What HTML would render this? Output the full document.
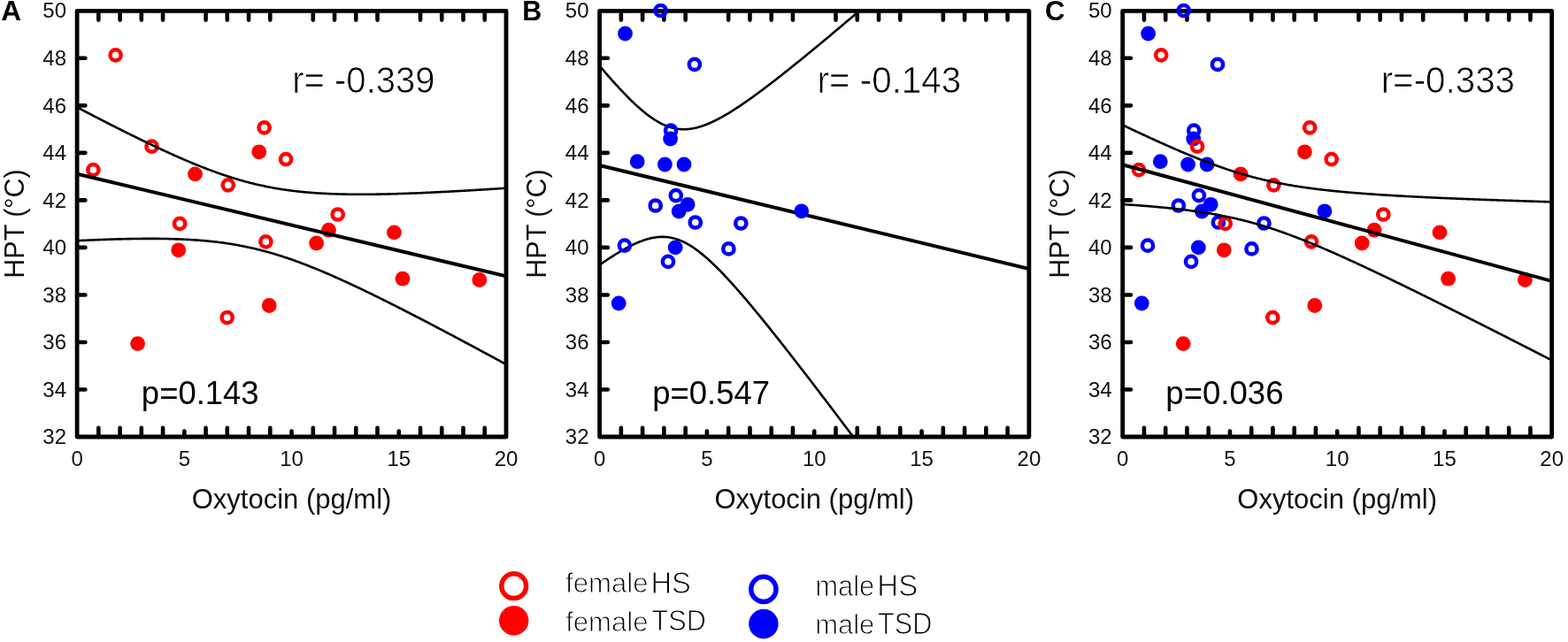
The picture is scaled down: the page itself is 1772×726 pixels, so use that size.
<!DOCTYPE html>
<html><head><meta charset="utf-8"><title>HPT vs Oxytocin</title>
<style>
html,body{margin:0;padding:0;background:#fff;}
body{width:1772px;height:726px;overflow:hidden;}
svg{display:block;font-family:"Liberation Sans",Arial,sans-serif;}
</style></head><body>
<svg width="1772" height="726" viewBox="0 0 1772 726">
<defs>
<clipPath id="clipA"><rect x="87.10" y="12.30" width="484.90" height="481.70"/></clipPath>
<clipPath id="clipB"><rect x="677.60" y="12.30" width="485.30" height="481.70"/></clipPath>
<clipPath id="clipC"><rect x="1268.70" y="12.30" width="485.00" height="481.70"/></clipPath>
</defs>
<path d="M111.34 12.30V22.60M111.34 494.00V483.90M135.59 12.30V22.60M135.59 494.00V483.90M159.83 12.30V22.60M159.83 494.00V483.90M184.08 12.30V22.60M184.08 494.00V483.90M208.32 494.00V487.50M232.57 12.30V22.60M232.57 494.00V483.90M256.81 12.30V22.60M256.81 494.00V483.90M281.06 12.30V22.60M281.06 494.00V483.90M305.30 12.30V22.60M305.30 494.00V483.90M329.55 494.00V487.50M353.79 12.30V22.60M353.79 494.00V483.90M378.04 12.30V22.60M378.04 494.00V483.90M402.28 12.30V22.60M402.28 494.00V483.90M426.53 12.30V22.60M426.53 494.00V483.90M450.77 494.00V487.50M475.02 12.30V22.60M475.02 494.00V483.90M499.26 12.30V22.60M499.26 494.00V483.90M523.51 12.30V22.60M523.51 494.00V483.90M547.75 12.30V22.60M547.75 494.00V483.90M87.10 440.48H96.40M87.10 386.96H96.40M87.10 333.43H96.40M87.10 279.91H96.40M87.10 226.39H96.40M87.10 172.87H96.40M87.10 119.34H96.40M87.10 65.82H96.40" stroke="#000" stroke-width="4.6" stroke-linecap="round" fill="none"/>
<rect x="87.10" y="12.30" width="484.90" height="481.70" fill="none" stroke="#000" stroke-width="4.8" stroke-linejoin="round"/>
<g font-size="24" fill="#111"><text x="75.00" y="502.20" text-anchor="end">32</text><text x="75.00" y="448.68" text-anchor="end">34</text><text x="75.00" y="395.16" text-anchor="end">36</text><text x="75.00" y="341.63" text-anchor="end">38</text><text x="75.00" y="288.11" text-anchor="end">40</text><text x="75.00" y="234.59" text-anchor="end">42</text><text x="75.00" y="181.07" text-anchor="end">44</text><text x="75.00" y="127.54" text-anchor="end">46</text><text x="75.00" y="74.02" text-anchor="end">48</text><text x="75.00" y="19.70" text-anchor="end">50</text><text x="87.10" y="527.3" text-anchor="middle">0</text><text x="208.32" y="527.3" text-anchor="middle">5</text><text x="329.55" y="527.3" text-anchor="middle">10</text><text x="450.77" y="527.3" text-anchor="middle">15</text><text x="572.00" y="527.3" text-anchor="middle">20</text></g>
<text x="329.55" y="575.3" text-anchor="middle" font-size="31" fill="#111">Oxytocin (pg/ml)</text>
<text transform="translate(26.50,253) rotate(-90)" text-anchor="middle" font-size="30.5" fill="#111">HPT (°C)</text>
<path d="M701.87 12.30V22.60M701.87 494.00V483.90M726.13 12.30V22.60M726.13 494.00V483.90M750.39 12.30V22.60M750.39 494.00V483.90M774.66 12.30V22.60M774.66 494.00V483.90M798.93 494.00V487.50M823.19 12.30V22.60M823.19 494.00V483.90M847.46 12.30V22.60M847.46 494.00V483.90M871.72 12.30V22.60M871.72 494.00V483.90M895.99 12.30V22.60M895.99 494.00V483.90M920.25 494.00V487.50M944.52 12.30V22.60M944.52 494.00V483.90M968.78 12.30V22.60M968.78 494.00V483.90M993.05 12.30V22.60M993.05 494.00V483.90M1017.31 12.30V22.60M1017.31 494.00V483.90M1041.58 494.00V487.50M1065.84 12.30V22.60M1065.84 494.00V483.90M1090.11 12.30V22.60M1090.11 494.00V483.90M1114.37 12.30V22.60M1114.37 494.00V483.90M1138.63 12.30V22.60M1138.63 494.00V483.90M677.60 440.48H686.90M677.60 386.96H686.90M677.60 333.43H686.90M677.60 279.91H686.90M677.60 226.39H686.90M677.60 172.87H686.90M677.60 119.34H686.90M677.60 65.82H686.90" stroke="#000" stroke-width="4.6" stroke-linecap="round" fill="none"/>
<rect x="677.60" y="12.30" width="485.30" height="481.70" fill="none" stroke="#000" stroke-width="4.8" stroke-linejoin="round"/>
<g font-size="24" fill="#111"><text x="665.50" y="502.20" text-anchor="end">32</text><text x="665.50" y="448.68" text-anchor="end">34</text><text x="665.50" y="395.16" text-anchor="end">36</text><text x="665.50" y="341.63" text-anchor="end">38</text><text x="665.50" y="288.11" text-anchor="end">40</text><text x="665.50" y="234.59" text-anchor="end">42</text><text x="665.50" y="181.07" text-anchor="end">44</text><text x="665.50" y="127.54" text-anchor="end">46</text><text x="665.50" y="74.02" text-anchor="end">48</text><text x="665.50" y="19.70" text-anchor="end">50</text><text x="677.60" y="527.3" text-anchor="middle">0</text><text x="798.93" y="527.3" text-anchor="middle">5</text><text x="920.25" y="527.3" text-anchor="middle">10</text><text x="1041.58" y="527.3" text-anchor="middle">15</text><text x="1162.90" y="527.3" text-anchor="middle">20</text></g>
<text x="920.25" y="575.3" text-anchor="middle" font-size="31" fill="#111">Oxytocin (pg/ml)</text>
<text transform="translate(617.00,253) rotate(-90)" text-anchor="middle" font-size="30.5" fill="#111">HPT (°C)</text>
<path d="M1292.95 12.30V22.60M1292.95 494.00V483.90M1317.20 12.30V22.60M1317.20 494.00V483.90M1341.45 12.30V22.60M1341.45 494.00V483.90M1365.70 12.30V22.60M1365.70 494.00V483.90M1389.95 494.00V487.50M1414.20 12.30V22.60M1414.20 494.00V483.90M1438.45 12.30V22.60M1438.45 494.00V483.90M1462.70 12.30V22.60M1462.70 494.00V483.90M1486.95 12.30V22.60M1486.95 494.00V483.90M1511.20 494.00V487.50M1535.45 12.30V22.60M1535.45 494.00V483.90M1559.70 12.30V22.60M1559.70 494.00V483.90M1583.95 12.30V22.60M1583.95 494.00V483.90M1608.20 12.30V22.60M1608.20 494.00V483.90M1632.45 494.00V487.50M1656.70 12.30V22.60M1656.70 494.00V483.90M1680.95 12.30V22.60M1680.95 494.00V483.90M1705.20 12.30V22.60M1705.20 494.00V483.90M1729.45 12.30V22.60M1729.45 494.00V483.90M1268.70 440.48H1278.00M1268.70 386.96H1278.00M1268.70 333.43H1278.00M1268.70 279.91H1278.00M1268.70 226.39H1278.00M1268.70 172.87H1278.00M1268.70 119.34H1278.00M1268.70 65.82H1278.00" stroke="#000" stroke-width="4.6" stroke-linecap="round" fill="none"/>
<rect x="1268.70" y="12.30" width="485.00" height="481.70" fill="none" stroke="#000" stroke-width="4.8" stroke-linejoin="round"/>
<g font-size="24" fill="#111"><text x="1256.60" y="502.20" text-anchor="end">32</text><text x="1256.60" y="448.68" text-anchor="end">34</text><text x="1256.60" y="395.16" text-anchor="end">36</text><text x="1256.60" y="341.63" text-anchor="end">38</text><text x="1256.60" y="288.11" text-anchor="end">40</text><text x="1256.60" y="234.59" text-anchor="end">42</text><text x="1256.60" y="181.07" text-anchor="end">44</text><text x="1256.60" y="127.54" text-anchor="end">46</text><text x="1256.60" y="74.02" text-anchor="end">48</text><text x="1256.60" y="19.70" text-anchor="end">50</text><text x="1268.70" y="527.3" text-anchor="middle">0</text><text x="1389.95" y="527.3" text-anchor="middle">5</text><text x="1511.20" y="527.3" text-anchor="middle">10</text><text x="1632.45" y="527.3" text-anchor="middle">15</text><text x="1753.70" y="527.3" text-anchor="middle">20</text></g>
<text x="1511.20" y="575.3" text-anchor="middle" font-size="31" fill="#111">Oxytocin (pg/ml)</text>
<text transform="translate(1208.10,253) rotate(-90)" text-anchor="middle" font-size="30.5" fill="#111">HPT (°C)</text>
<circle cx="130.60" cy="62.30" r="6.1" fill="none" stroke="#ff0000" stroke-width="4.5"/><circle cx="105.40" cy="192.10" r="6.1" fill="none" stroke="#ff0000" stroke-width="4.5"/><circle cx="171.50" cy="165.60" r="6.1" fill="none" stroke="#ff0000" stroke-width="4.5"/><circle cx="257.80" cy="209.30" r="6.1" fill="none" stroke="#ff0000" stroke-width="4.5"/><circle cx="298.60" cy="144.30" r="6.1" fill="none" stroke="#ff0000" stroke-width="4.5"/><circle cx="323.10" cy="180.10" r="6.1" fill="none" stroke="#ff0000" stroke-width="4.5"/><circle cx="381.70" cy="242.50" r="6.1" fill="none" stroke="#ff0000" stroke-width="4.5"/><circle cx="300.40" cy="273.30" r="6.1" fill="none" stroke="#ff0000" stroke-width="4.5"/><circle cx="203.10" cy="252.80" r="6.1" fill="none" stroke="#ff0000" stroke-width="4.5"/><circle cx="256.70" cy="359.10" r="6.1" fill="none" stroke="#ff0000" stroke-width="4.5"/><circle cx="220.50" cy="196.90" r="8.4" fill="#ff0000"/><circle cx="292.80" cy="171.80" r="8.4" fill="#ff0000"/><circle cx="371.50" cy="260.20" r="8.4" fill="#ff0000"/><circle cx="357.60" cy="275.00" r="8.4" fill="#ff0000"/><circle cx="445.40" cy="262.90" r="8.4" fill="#ff0000"/><circle cx="455.00" cy="315.20" r="8.4" fill="#ff0000"/><circle cx="541.80" cy="316.50" r="8.4" fill="#ff0000"/><circle cx="201.70" cy="282.80" r="8.4" fill="#ff0000"/><circle cx="304.20" cy="345.50" r="8.4" fill="#ff0000"/><circle cx="155.60" cy="388.60" r="8.4" fill="#ff0000"/>
<g clip-path="url(#clipA)" fill="none" stroke="#000" stroke-linejoin="round"><polyline points="87.10,121.29 88.31,121.92 89.52,122.56 90.74,123.19 91.95,123.83 93.16,124.46 94.37,125.10 95.59,125.73 96.80,126.36 98.01,126.99 99.22,127.62 100.43,128.26 101.65,128.89 102.86,129.51 104.07,130.14 105.28,130.77 106.50,131.40 107.71,132.03 108.92,132.65 110.13,133.28 111.34,133.90 112.56,134.53 113.77,135.15 114.98,135.78 116.19,136.40 117.41,137.02 118.62,137.64 119.83,138.26 121.04,138.88 122.26,139.50 123.47,140.12 124.68,140.74 125.89,141.35 127.10,141.97 128.32,142.58 129.53,143.20 130.74,143.81 131.95,144.42 133.17,145.04 134.38,145.65 135.59,146.26 136.80,146.87 138.01,147.47 139.23,148.08 140.44,148.69 141.65,149.29 142.86,149.90 144.08,150.50 145.29,151.10 146.50,151.71 147.71,152.31 148.92,152.91 150.14,153.50 151.35,154.10 152.56,154.70 153.77,155.29 154.99,155.89 156.20,156.48 157.41,157.07 158.62,157.66 159.83,158.25 161.05,158.84 162.26,159.43 163.47,160.01 164.68,160.60 165.90,161.18 167.11,161.76 168.32,162.35 169.53,162.92 170.75,163.50 171.96,164.08 173.17,164.65 174.38,165.23 175.59,165.80 176.81,166.37 178.02,166.94 179.23,167.51 180.44,168.07 181.66,168.64 182.87,169.20 184.08,169.76 185.29,170.32 186.50,170.88 187.72,171.44 188.93,171.99 190.14,172.54 191.35,173.09 192.57,173.64 193.78,174.19 194.99,174.73 196.20,175.28 197.41,175.82 198.63,176.36 199.84,176.90 201.05,177.43 202.26,177.96 203.48,178.49 204.69,179.02 205.90,179.55 207.11,180.07 208.32,180.60 209.54,181.12 210.75,181.63 211.96,182.15 213.17,182.66 214.39,183.17 215.60,183.68 216.81,184.18 218.02,184.69 219.24,185.19 220.45,185.68 221.66,186.18 222.87,186.67 224.08,187.16 225.30,187.65 226.51,188.13 227.72,188.61 228.93,189.09 230.15,189.56 231.36,190.04 232.57,190.50 233.78,190.97 234.99,191.43 236.21,191.89 237.42,192.35 238.63,192.80 239.84,193.25 241.06,193.70 242.27,194.14 243.48,194.58 244.69,195.02 245.90,195.45 247.12,195.88 248.33,196.31 249.54,196.73 250.75,197.15 251.97,197.56 253.18,197.97 254.39,198.38 255.60,198.78 256.81,199.18 258.03,199.58 259.24,199.97 260.45,200.36 261.66,200.75 262.88,201.13 264.09,201.50 265.30,201.88 266.51,202.25 267.73,202.61 268.94,202.97 270.15,203.33 271.36,203.68 272.57,204.03 273.79,204.37 275.00,204.71 276.21,205.05 277.42,205.38 278.64,205.70 279.85,206.03 281.06,206.35 282.27,206.66 283.48,206.97 284.70,207.28 285.91,207.58 287.12,207.87 288.33,208.17 289.55,208.46 290.76,208.74 291.97,209.02 293.18,209.30 294.39,209.57 295.61,209.83 296.82,210.10 298.03,210.35 299.24,210.61 300.46,210.86 301.67,211.10 302.88,211.35 304.09,211.58 305.30,211.82 306.52,212.05 307.73,212.27 308.94,212.49 310.15,212.71 311.37,212.92 312.58,213.13 313.79,213.33 315.00,213.53 316.22,213.73 317.43,213.92 318.64,214.11 319.85,214.30 321.06,214.48 322.28,214.65 323.49,214.83 324.70,215.00 325.91,215.16 327.13,215.32 328.34,215.48 329.55,215.64 330.76,215.79 331.97,215.94 333.19,216.08 334.40,216.22 335.61,216.36 336.82,216.49 338.04,216.62 339.25,216.75 340.46,216.88 341.67,217.00 342.88,217.11 344.10,217.23 345.31,217.34 346.52,217.45 347.73,217.55 348.95,217.66 350.16,217.76 351.37,217.85 352.58,217.95 353.79,218.04 355.01,218.13 356.22,218.21 357.43,218.29 358.64,218.37 359.86,218.45 361.07,218.53 362.28,218.60 363.49,218.67 364.71,218.74 365.92,218.80 367.13,218.86 368.34,218.92 369.55,218.98 370.77,219.04 371.98,219.09 373.19,219.14 374.40,219.19 375.62,219.24 376.83,219.28 378.04,219.32 379.25,219.36 380.46,219.40 381.68,219.44 382.89,219.47 384.10,219.51 385.31,219.54 386.53,219.57 387.74,219.59 388.95,219.62 390.16,219.64 391.37,219.66 392.59,219.68 393.80,219.70 395.01,219.72 396.22,219.73 397.44,219.75 398.65,219.76 399.86,219.77 401.07,219.78 402.28,219.78 403.50,219.79 404.71,219.79 405.92,219.80 407.13,219.80 408.35,219.80 409.56,219.80 410.77,219.79 411.98,219.79 413.20,219.79 414.41,219.78 415.62,219.77 416.83,219.76 418.04,219.75 419.26,219.74 420.47,219.73 421.68,219.71 422.89,219.70 424.11,219.68 425.32,219.66 426.53,219.65 427.74,219.63 428.95,219.61 430.17,219.58 431.38,219.56 432.59,219.54 433.80,219.51 435.02,219.49 436.23,219.46 437.44,219.43 438.65,219.41 439.86,219.38 441.08,219.35 442.29,219.31 443.50,219.28 444.71,219.25 445.93,219.22 447.14,219.18 448.35,219.15 449.56,219.11 450.77,219.07 451.99,219.03 453.20,219.00 454.41,218.96 455.62,218.92 456.84,218.88 458.05,218.83 459.26,218.79 460.47,218.75 461.69,218.70 462.90,218.66 464.11,218.62 465.32,218.57 466.53,218.52 467.75,218.48 468.96,218.43 470.17,218.38 471.38,218.33 472.60,218.28 473.81,218.23 475.02,218.18 476.23,218.13 477.44,218.08 478.66,218.03 479.87,217.97 481.08,217.92 482.29,217.86 483.51,217.81 484.72,217.75 485.93,217.70 487.14,217.64 488.35,217.59 489.57,217.53 490.78,217.47 491.99,217.41 493.20,217.35 494.42,217.29 495.63,217.23 496.84,217.17 498.05,217.11 499.26,217.05 500.48,216.99 501.69,216.93 502.90,216.87 504.11,216.80 505.33,216.74 506.54,216.68 507.75,216.61 508.96,216.55 510.18,216.48 511.39,216.42 512.60,216.35 513.81,216.29 515.02,216.22 516.24,216.15 517.45,216.09 518.66,216.02 519.87,215.95 521.09,215.88 522.30,215.82 523.51,215.75 524.72,215.68 525.93,215.61 527.15,215.54 528.36,215.47 529.57,215.40 530.78,215.33 532.00,215.25 533.21,215.18 534.42,215.11 535.63,215.04 536.84,214.97 538.06,214.89 539.27,214.82 540.48,214.75 541.69,214.67 542.91,214.60 544.12,214.53 545.33,214.45 546.54,214.38 547.75,214.30 548.97,214.23 550.18,214.15 551.39,214.08 552.60,214.00 553.82,213.92 555.03,213.85 556.24,213.77 557.45,213.69 558.67,213.62 559.88,213.54 561.09,213.46 562.30,213.38 563.51,213.30 564.73,213.23 565.94,213.15 567.15,213.07 568.36,212.99 569.58,212.91 570.79,212.83 572.00,212.75" stroke-width="2.6"/><polyline points="87.10,272.19 88.31,272.13 89.52,272.08 90.74,272.02 91.95,271.96 93.16,271.91 94.37,271.85 95.59,271.80 96.80,271.74 98.01,271.69 99.22,271.64 100.43,271.59 101.65,271.53 102.86,271.48 104.07,271.43 105.28,271.38 106.50,271.33 107.71,271.28 108.92,271.24 110.13,271.19 111.34,271.14 112.56,271.10 113.77,271.05 114.98,271.01 116.19,270.96 117.41,270.92 118.62,270.88 119.83,270.83 121.04,270.79 122.26,270.75 123.47,270.71 124.68,270.67 125.89,270.63 127.10,270.60 128.32,270.56 129.53,270.52 130.74,270.49 131.95,270.45 133.17,270.42 134.38,270.39 135.59,270.36 136.80,270.33 138.01,270.30 139.23,270.27 140.44,270.24 141.65,270.21 142.86,270.18 144.08,270.16 145.29,270.13 146.50,270.11 147.71,270.09 148.92,270.07 150.14,270.05 151.35,270.03 152.56,270.01 153.77,269.99 154.99,269.98 156.20,269.96 157.41,269.95 158.62,269.94 159.83,269.93 161.05,269.92 162.26,269.91 163.47,269.90 164.68,269.89 165.90,269.89 167.11,269.88 168.32,269.88 169.53,269.88 170.75,269.88 171.96,269.88 173.17,269.89 174.38,269.89 175.59,269.90 176.81,269.90 178.02,269.91 179.23,269.92 180.44,269.94 181.66,269.95 182.87,269.97 184.08,269.98 185.29,270.00 186.50,270.02 187.72,270.04 188.93,270.07 190.14,270.09 191.35,270.12 192.57,270.15 193.78,270.18 194.99,270.22 196.20,270.25 197.41,270.29 198.63,270.33 199.84,270.37 201.05,270.41 202.26,270.46 203.48,270.50 204.69,270.55 205.90,270.61 207.11,270.66 208.32,270.72 209.54,270.77 210.75,270.84 211.96,270.90 213.17,270.96 214.39,271.03 215.60,271.10 216.81,271.18 218.02,271.25 219.24,271.33 220.45,271.41 221.66,271.49 222.87,271.58 224.08,271.67 225.30,271.76 226.51,271.86 227.72,271.95 228.93,272.05 230.15,272.16 231.36,272.26 232.57,272.37 233.78,272.49 234.99,272.60 236.21,272.72 237.42,272.84 238.63,272.97 239.84,273.10 241.06,273.23 242.27,273.36 243.48,273.50 244.69,273.64 245.90,273.79 247.12,273.94 248.33,274.09 249.54,274.25 250.75,274.41 251.97,274.57 253.18,274.74 254.39,274.91 255.60,275.08 256.81,275.26 258.03,275.44 259.24,275.63 260.45,275.82 261.66,276.01 262.88,276.21 264.09,276.41 265.30,276.62 266.51,276.83 267.73,277.04 268.94,277.26 270.15,277.48 271.36,277.71 272.57,277.94 273.79,278.17 275.00,278.41 276.21,278.65 277.42,278.90 278.64,279.15 279.85,279.41 281.06,279.67 282.27,279.93 283.48,280.20 284.70,280.47 285.91,280.75 287.12,281.03 288.33,281.31 289.55,281.60 290.76,281.90 291.97,282.20 293.18,282.50 294.39,282.81 295.61,283.12 296.82,283.43 298.03,283.75 299.24,284.08 300.46,284.41 301.67,284.74 302.88,285.08 304.09,285.42 305.30,285.76 306.52,286.11 307.73,286.46 308.94,286.82 310.15,287.18 311.37,287.55 312.58,287.92 313.79,288.29 315.00,288.67 316.22,289.05 317.43,289.44 318.64,289.83 319.85,290.22 321.06,290.62 322.28,291.02 323.49,291.43 324.70,291.83 325.91,292.25 327.13,292.66 328.34,293.08 329.55,293.51 330.76,293.93 331.97,294.36 333.19,294.80 334.40,295.24 335.61,295.68 336.82,296.12 338.04,296.57 339.25,297.02 340.46,297.47 341.67,297.93 342.88,298.39 344.10,298.86 345.31,299.32 346.52,299.79 347.73,300.26 348.95,300.74 350.16,301.22 351.37,301.70 352.58,302.19 353.79,302.67 355.01,303.16 356.22,303.66 357.43,304.15 358.64,304.65 359.86,305.15 361.07,305.65 362.28,306.16 363.49,306.67 364.71,307.18 365.92,307.69 367.13,308.21 368.34,308.73 369.55,309.25 370.77,309.77 371.98,310.29 373.19,310.82 374.40,311.35 375.62,311.88 376.83,312.42 378.04,312.95 379.25,313.49 380.46,314.03 381.68,314.57 382.89,315.12 384.10,315.66 385.31,316.21 386.53,316.76 387.74,317.31 388.95,317.86 390.16,318.42 391.37,318.97 392.59,319.53 393.80,320.09 395.01,320.65 396.22,321.22 397.44,321.78 398.65,322.35 399.86,322.92 401.07,323.49 402.28,324.06 403.50,324.63 404.71,325.21 405.92,325.78 407.13,326.36 408.35,326.94 409.56,327.52 410.77,328.10 411.98,328.68 413.20,329.26 414.41,329.85 415.62,330.43 416.83,331.02 418.04,331.61 419.26,332.20 420.47,332.79 421.68,333.38 422.89,333.98 424.11,334.57 425.32,335.17 426.53,335.76 427.74,336.36 428.95,336.96 430.17,337.56 431.38,338.16 432.59,338.76 433.80,339.37 435.02,339.97 436.23,340.58 437.44,341.18 438.65,341.79 439.86,342.40 441.08,343.00 442.29,343.61 443.50,344.22 444.71,344.84 445.93,345.45 447.14,346.06 448.35,346.67 449.56,347.29 450.77,347.90 451.99,348.52 453.20,349.14 454.41,349.76 455.62,350.37 456.84,350.99 458.05,351.61 459.26,352.23 460.47,352.85 461.69,353.48 462.90,354.10 464.11,354.72 465.32,355.35 466.53,355.97 467.75,356.60 468.96,357.22 470.17,357.85 471.38,358.48 472.60,359.10 473.81,359.73 475.02,360.36 476.23,360.99 477.44,361.62 478.66,362.25 479.87,362.88 481.08,363.52 482.29,364.15 483.51,364.78 484.72,365.42 485.93,366.05 487.14,366.68 488.35,367.32 489.57,367.95 490.78,368.59 491.99,369.23 493.20,369.86 494.42,370.50 495.63,371.14 496.84,371.78 498.05,372.42 499.26,373.06 500.48,373.70 501.69,374.34 502.90,374.98 504.11,375.62 505.33,376.26 506.54,376.90 507.75,377.54 508.96,378.19 510.18,378.83 511.39,379.47 512.60,380.12 513.81,380.76 515.02,381.41 516.24,382.05 517.45,382.70 518.66,383.34 519.87,383.99 521.09,384.64 522.30,385.28 523.51,385.93 524.72,386.58 525.93,387.23 527.15,387.87 528.36,388.52 529.57,389.17 530.78,389.82 532.00,390.47 533.21,391.12 534.42,391.77 535.63,392.42 536.84,393.07 538.06,393.72 539.27,394.37 540.48,395.02 541.69,395.68 542.91,396.33 544.12,396.98 545.33,397.63 546.54,398.29 547.75,398.94 548.97,399.59 550.18,400.25 551.39,400.90 552.60,401.56 553.82,402.21 555.03,402.87 556.24,403.52 557.45,404.18 558.67,404.83 559.88,405.49 561.09,406.14 562.30,406.80 563.51,407.46 564.73,408.11 565.94,408.77 567.15,409.43 568.36,410.09 569.58,410.74 570.79,411.40 572.00,412.06" stroke-width="2.6"/><line x1="87.10" y1="196.74" x2="572.00" y2="312.40" stroke-width="4.0"/></g>
<g clip-path="url(#clipB)" fill="none" stroke="#000" stroke-linejoin="round"><polyline points="677.60,74.51 678.81,75.94 680.03,77.36 681.24,78.78 682.45,80.19 683.67,81.60 684.88,83.00 686.09,84.40 687.31,85.79 688.52,87.17 689.73,88.55 690.95,89.92 692.16,91.28 693.37,92.63 694.59,93.98 695.80,95.32 697.01,96.65 698.23,97.97 699.44,99.29 700.65,100.59 701.87,101.89 703.08,103.17 704.29,104.45 705.50,105.71 706.72,106.97 707.93,108.21 709.14,109.44 710.36,110.66 711.57,111.87 712.78,113.07 714.00,114.25 715.21,115.42 716.42,116.57 717.64,117.72 718.85,118.84 720.06,119.95 721.28,121.05 722.49,122.13 723.70,123.19 724.92,124.24 726.13,125.26 727.34,126.27 728.56,127.26 729.77,128.24 730.98,129.19 732.20,130.12 733.41,131.03 734.62,131.91 735.84,132.78 737.05,133.62 738.26,134.44 739.48,135.24 740.69,136.01 741.90,136.75 743.12,137.47 744.33,138.17 745.54,138.84 746.76,139.48 747.97,140.09 749.18,140.68 750.39,141.23 751.61,141.76 752.82,142.26 754.03,142.73 755.25,143.17 756.46,143.58 757.67,143.97 758.89,144.32 760.10,144.64 761.31,144.93 762.53,145.19 763.74,145.42 764.95,145.63 766.17,145.80 767.38,145.94 768.59,146.05 769.81,146.14 771.02,146.19 772.23,146.22 773.45,146.21 774.66,146.18 775.87,146.13 777.09,146.04 778.30,145.93 779.51,145.80 780.73,145.63 781.94,145.45 783.15,145.23 784.37,145.00 785.58,144.74 786.79,144.46 788.01,144.15 789.22,143.83 790.43,143.48 791.65,143.11 792.86,142.73 794.07,142.32 795.29,141.89 796.50,141.45 797.71,140.99 798.93,140.51 800.14,140.01 801.35,139.50 802.56,138.97 803.78,138.43 804.99,137.87 806.20,137.30 807.42,136.72 808.63,136.12 809.84,135.51 811.06,134.88 812.27,134.25 813.48,133.60 814.70,132.94 815.91,132.27 817.12,131.59 818.34,130.90 819.55,130.19 820.76,129.48 821.98,128.76 823.19,128.03 824.40,127.30 825.62,126.55 826.83,125.79 828.04,125.03 829.26,124.26 830.47,123.48 831.68,122.70 832.90,121.91 834.11,121.11 835.32,120.30 836.54,119.49 837.75,118.68 838.96,117.85 840.18,117.02 841.39,116.19 842.60,115.35 843.82,114.50 845.03,113.65 846.24,112.80 847.46,111.94 848.67,111.07 849.88,110.20 851.09,109.33 852.31,108.45 853.52,107.57 854.73,106.68 855.95,105.79 857.16,104.90 858.37,104.00 859.59,103.10 860.80,102.19 862.01,101.29 863.23,100.37 864.44,99.46 865.65,98.54 866.87,97.62 868.08,96.70 869.29,95.77 870.51,94.84 871.72,93.91 872.93,92.98 874.15,92.04 875.36,91.10 876.57,90.16 877.79,89.21 879.00,88.27 880.21,87.32 881.43,86.36 882.64,85.41 883.85,84.46 885.07,83.50 886.28,82.54 887.49,81.58 888.71,80.61 889.92,79.65 891.13,78.68 892.35,77.71 893.56,76.74 894.77,75.77 895.99,74.79 897.20,73.82 898.41,72.84 899.62,71.86 900.84,70.88 902.05,69.90 903.26,68.91 904.48,67.93 905.69,66.94 906.90,65.96 908.12,64.97 909.33,63.98 910.54,62.99 911.76,61.99 912.97,61.00 914.18,60.00 915.40,59.01 916.61,58.01 917.82,57.01 919.04,56.01 920.25,55.01 921.46,54.01 922.68,53.01 923.89,52.00 925.10,51.00 926.32,49.99 927.53,48.99 928.74,47.98 929.96,46.97 931.17,45.96 932.38,44.95 933.60,43.94 934.81,42.93 936.02,41.91 937.24,40.90 938.45,39.89 939.66,38.87 940.88,37.85 942.09,36.84 943.30,35.82 944.52,34.80 945.73,33.78 946.94,32.76 948.15,31.74 949.37,30.72 950.58,29.70 951.79,28.68 953.01,27.66 954.22,26.63 955.43,25.61 956.65,24.58 957.86,23.56 959.07,22.53 960.29,21.50 961.50,20.48 962.71,19.45 963.93,18.42 965.14,17.39 966.35,16.36 967.57,15.33 968.78,14.30 969.99,13.27 971.21,12.24 972.42,11.21 973.63,10.18 974.85,9.14 976.06,8.11 977.27,7.08 978.49,6.04 979.70,5.01 980.91,3.97 982.13,2.94 983.34,1.90 984.55,0.86 985.77,-0.17 986.98,-1.21 988.19,-2.25 989.41,-3.29 990.62,-4.32 991.83,-5.36 993.05,-6.40 994.26,-7.44 995.47,-8.48 996.68,-9.52 997.90,-10.56 999.11,-11.60 1000.32,-12.64 1001.54,-13.69 1002.75,-14.73 1003.96,-15.77 1005.18,-16.81 1006.39,-17.86 1007.60,-18.90 1008.82,-19.94 1010.03,-20.99 1011.24,-22.03 1012.46,-23.08 1013.67,-24.12 1014.88,-25.17 1016.10,-26.21 1017.31,-27.26 1018.52,-28.30 1019.74,-29.35 1020.95,-30.40 1022.16,-31.44 1023.38,-32.49 1024.59,-33.54 1025.80,-34.58 1027.02,-35.63 1028.23,-36.68 1029.44,-37.73 1030.66,-38.78 1031.87,-39.83 1033.08,-40.87 1034.30,-41.92 1035.51,-42.97 1036.72,-44.02 1037.94,-45.07 1039.15,-46.12 1040.36,-47.17 1041.58,-48.22 1042.79,-49.27 1044.00,-50.33 1045.21,-51.38 1046.43,-52.43 1047.64,-53.48 1048.85,-54.53 1050.07,-55.58 1051.28,-56.64 1052.49,-57.69 1053.71,-58.74 1054.92,-59.79 1056.13,-60.85 1057.35,-61.90 1058.56,-62.95 1059.77,-64.01 1060.99,-65.06 1062.20,-66.12 1063.41,-67.17 1064.63,-68.22 1065.84,-69.28 1067.05,-70.33 1068.27,-71.39 1069.48,-72.44 1070.69,-73.50 1071.91,-74.55 1073.12,-75.61 1074.33,-76.66 1075.55,-77.72 1076.76,-78.78 1077.97,-79.83 1079.19,-80.89 1080.40,-81.94 1081.61,-83.00 1082.83,-84.06 1084.04,-85.11 1085.25,-86.17 1086.47,-87.23 1087.68,-88.29 1088.89,-89.34 1090.11,-90.40 1091.32,-91.46 1092.53,-92.52 1093.74,-93.57 1094.96,-94.63 1096.17,-95.69 1097.38,-96.75 1098.60,-97.81 1099.81,-98.87 1101.02,-99.92 1102.24,-100.98 1103.45,-102.04 1104.66,-103.10 1105.88,-104.16 1107.09,-105.22 1108.30,-106.28 1109.52,-107.34 1110.73,-108.40 1111.94,-109.46 1113.16,-110.52 1114.37,-111.58 1115.58,-112.64 1116.80,-113.70 1118.01,-114.76 1119.22,-115.82 1120.44,-116.88 1121.65,-117.94 1122.86,-119.00 1124.08,-120.06 1125.29,-121.12 1126.50,-122.18 1127.72,-123.24 1128.93,-124.31 1130.14,-125.37 1131.36,-126.43 1132.57,-127.49 1133.78,-128.55 1135.00,-129.61 1136.21,-130.68 1137.42,-131.74 1138.63,-132.80 1139.85,-133.86 1141.06,-134.92 1142.27,-135.99 1143.49,-137.05 1144.70,-138.11 1145.91,-139.17 1147.13,-140.24 1148.34,-141.30 1149.55,-142.36 1150.77,-143.42 1151.98,-144.49 1153.19,-145.55 1154.41,-146.61 1155.62,-147.68 1156.83,-148.74 1158.05,-149.80 1159.26,-150.87 1160.47,-151.93 1161.69,-152.99 1162.90,-154.06" stroke-width="2.6"/><polyline points="677.60,299.55 678.81,298.71 680.03,297.87 681.24,297.03 682.45,296.20 683.67,295.38 684.88,294.56 686.09,293.75 687.31,292.95 688.52,292.15 689.73,291.36 690.95,290.57 692.16,289.80 693.37,289.03 694.59,288.27 695.80,287.51 697.01,286.76 698.23,286.03 699.44,285.30 700.65,284.58 701.87,283.87 703.08,283.17 704.29,282.48 705.50,281.80 706.72,281.13 707.93,280.47 709.14,279.82 710.36,279.18 711.57,278.56 712.78,277.95 714.00,277.35 715.21,276.77 716.42,276.19 717.64,275.64 718.85,275.10 720.06,274.57 721.28,274.06 722.49,273.56 723.70,273.09 724.92,272.62 726.13,272.18 727.34,271.76 728.56,271.35 729.77,270.96 730.98,270.60 732.20,270.25 733.41,269.93 734.62,269.62 735.84,269.34 737.05,269.09 738.26,268.85 739.48,268.64 740.69,268.45 741.90,268.29 743.12,268.16 744.33,268.05 745.54,267.97 746.76,267.91 747.97,267.88 749.18,267.88 750.39,267.91 751.61,267.96 752.82,268.05 754.03,268.16 755.25,268.31 756.46,268.48 757.67,268.68 758.89,268.91 760.10,269.18 761.31,269.47 762.53,269.79 763.74,270.15 764.95,270.53 766.17,270.94 767.38,271.39 768.59,271.86 769.81,272.36 771.02,272.89 772.23,273.45 773.45,274.03 774.66,274.65 775.87,275.29 777.09,275.96 778.30,276.66 779.51,277.38 780.73,278.12 781.94,278.90 783.15,279.69 784.37,280.51 785.58,281.36 786.79,282.22 788.01,283.11 789.22,284.02 790.43,284.95 791.65,285.91 792.86,286.88 794.07,287.87 795.29,288.88 796.50,289.91 797.71,290.95 798.93,292.02 800.14,293.10 801.35,294.19 802.56,295.31 803.78,296.43 804.99,297.58 806.20,298.73 807.42,299.90 808.63,301.09 809.84,302.28 811.06,303.49 812.27,304.71 813.48,305.94 814.70,307.19 815.91,308.44 817.12,309.71 818.34,310.99 819.55,312.27 820.76,313.57 821.98,314.87 823.19,316.19 824.40,317.51 825.62,318.84 826.83,320.18 828.04,321.53 829.26,322.88 830.47,324.24 831.68,325.61 832.90,326.99 834.11,328.37 835.32,329.76 836.54,331.16 837.75,332.56 838.96,333.97 840.18,335.38 841.39,336.80 842.60,338.23 843.82,339.66 845.03,341.09 846.24,342.53 847.46,343.98 848.67,345.43 849.88,346.88 851.09,348.34 852.31,349.80 853.52,351.27 854.73,352.74 855.95,354.21 857.16,355.69 858.37,357.18 859.59,358.66 860.80,360.15 862.01,361.64 863.23,363.14 864.44,364.64 865.65,366.14 866.87,367.65 868.08,369.15 869.29,370.67 870.51,372.18 871.72,373.70 872.93,375.22 874.15,376.74 875.36,378.26 876.57,379.79 877.79,381.32 879.00,382.85 880.21,384.38 881.43,385.92 882.64,387.46 883.85,389.00 885.07,390.54 886.28,392.08 887.49,393.63 888.71,395.18 889.92,396.73 891.13,398.28 892.35,399.84 893.56,401.39 894.77,402.95 895.99,404.51 897.20,406.07 898.41,407.63 899.62,409.19 900.84,410.76 902.05,412.32 903.26,413.89 904.48,415.46 905.69,417.03 906.90,418.61 908.12,420.18 909.33,421.75 910.54,423.33 911.76,424.91 912.97,426.49 914.18,428.07 915.40,429.65 916.61,431.23 917.82,432.81 919.04,434.40 920.25,435.98 921.46,437.57 922.68,439.16 923.89,440.74 925.10,442.33 926.32,443.92 927.53,445.52 928.74,447.11 929.96,448.70 931.17,450.29 932.38,451.89 933.60,453.49 934.81,455.08 936.02,456.68 937.24,458.28 938.45,459.88 939.66,461.48 940.88,463.08 942.09,464.68 943.30,466.28 944.52,467.88 945.73,469.49 946.94,471.09 948.15,472.70 949.37,474.30 950.58,475.91 951.79,477.52 953.01,479.12 954.22,480.73 955.43,482.34 956.65,483.95 957.86,485.56 959.07,487.17 960.29,488.78 961.50,490.39 962.71,492.01 963.93,493.62 965.14,495.23 966.35,496.85 967.57,498.46 968.78,500.08 969.99,501.69 971.21,503.31 972.42,504.93 973.63,506.54 974.85,508.16 976.06,509.78 977.27,511.40 978.49,513.02 979.70,514.63 980.91,516.25 982.13,517.87 983.34,519.50 984.55,521.12 985.77,522.74 986.98,524.36 988.19,525.98 989.41,527.60 990.62,529.23 991.83,530.85 993.05,532.48 994.26,534.10 995.47,535.72 996.68,537.35 997.90,538.97 999.11,540.60 1000.32,542.23 1001.54,543.85 1002.75,545.48 1003.96,547.11 1005.18,548.73 1006.39,550.36 1007.60,551.99 1008.82,553.62 1010.03,555.25 1011.24,556.87 1012.46,558.50 1013.67,560.13 1014.88,561.76 1016.10,563.39 1017.31,565.02 1018.52,566.65 1019.74,568.28 1020.95,569.92 1022.16,571.55 1023.38,573.18 1024.59,574.81 1025.80,576.44 1027.02,578.08 1028.23,579.71 1029.44,581.34 1030.66,582.97 1031.87,584.61 1033.08,586.24 1034.30,587.88 1035.51,589.51 1036.72,591.14 1037.94,592.78 1039.15,594.41 1040.36,596.05 1041.58,597.68 1042.79,599.32 1044.00,600.96 1045.21,602.59 1046.43,604.23 1047.64,605.86 1048.85,607.50 1050.07,609.14 1051.28,610.77 1052.49,612.41 1053.71,614.05 1054.92,615.69 1056.13,617.32 1057.35,618.96 1058.56,620.60 1059.77,622.24 1060.99,623.88 1062.20,625.51 1063.41,627.15 1064.63,628.79 1065.84,630.43 1067.05,632.07 1068.27,633.71 1069.48,635.35 1070.69,636.99 1071.91,638.63 1073.12,640.27 1074.33,641.91 1075.55,643.55 1076.76,645.19 1077.97,646.83 1079.19,648.47 1080.40,650.11 1081.61,651.75 1082.83,653.40 1084.04,655.04 1085.25,656.68 1086.47,658.32 1087.68,659.96 1088.89,661.61 1090.11,663.25 1091.32,664.89 1092.53,666.53 1093.74,668.17 1094.96,669.82 1096.17,671.46 1097.38,673.10 1098.60,674.75 1099.81,676.39 1101.02,678.03 1102.24,679.68 1103.45,681.32 1104.66,682.96 1105.88,684.61 1107.09,686.25 1108.30,687.90 1109.52,689.54 1110.73,691.18 1111.94,692.83 1113.16,694.47 1114.37,696.12 1115.58,697.76 1116.80,699.41 1118.01,701.05 1119.22,702.70 1120.44,704.34 1121.65,705.99 1122.86,707.63 1124.08,709.28 1125.29,710.92 1126.50,712.57 1127.72,714.22 1128.93,715.86 1130.14,717.51 1131.36,719.15 1132.57,720.80 1133.78,722.45 1135.00,724.09 1136.21,725.74 1137.42,727.39 1138.63,729.03 1139.85,730.68 1141.06,732.33 1142.27,733.97 1143.49,735.62 1144.70,737.27 1145.91,738.91 1147.13,740.56 1148.34,742.21 1149.55,743.86 1150.77,745.50 1151.98,747.15 1153.19,748.80 1154.41,750.45 1155.62,752.09 1156.83,753.74 1158.05,755.39 1159.26,757.04 1160.47,758.69 1161.69,760.34 1162.90,761.98" stroke-width="2.6"/><line x1="677.60" y1="187.03" x2="1162.90" y2="303.96" stroke-width="4.0"/></g>
<circle cx="746.60" cy="12.00" r="6.1" fill="none" stroke="#0000ff" stroke-width="4.5"/><circle cx="784.90" cy="72.90" r="6.1" fill="none" stroke="#0000ff" stroke-width="4.5"/><circle cx="758.10" cy="147.60" r="6.1" fill="none" stroke="#0000ff" stroke-width="4.5"/><circle cx="763.80" cy="221.10" r="6.1" fill="none" stroke="#0000ff" stroke-width="4.5"/><circle cx="740.70" cy="232.50" r="6.1" fill="none" stroke="#0000ff" stroke-width="4.5"/><circle cx="785.80" cy="251.50" r="6.1" fill="none" stroke="#0000ff" stroke-width="4.5"/><circle cx="837.30" cy="252.50" r="6.1" fill="none" stroke="#0000ff" stroke-width="4.5"/><circle cx="705.90" cy="277.70" r="6.1" fill="none" stroke="#0000ff" stroke-width="4.5"/><circle cx="823.40" cy="281.40" r="6.1" fill="none" stroke="#0000ff" stroke-width="4.5"/><circle cx="755.00" cy="295.90" r="6.1" fill="none" stroke="#0000ff" stroke-width="4.5"/><circle cx="706.50" cy="38.00" r="8.4" fill="#0000ff"/><circle cx="757.60" cy="157.00" r="8.4" fill="#0000ff"/><circle cx="720.20" cy="182.70" r="8.4" fill="#0000ff"/><circle cx="751.40" cy="186.00" r="8.4" fill="#0000ff"/><circle cx="773.00" cy="186.00" r="8.4" fill="#0000ff"/><circle cx="777.10" cy="231.30" r="8.4" fill="#0000ff"/><circle cx="767.20" cy="239.00" r="8.4" fill="#0000ff"/><circle cx="905.80" cy="238.80" r="8.4" fill="#0000ff"/><circle cx="763.20" cy="279.90" r="8.4" fill="#0000ff"/><circle cx="699.20" cy="343.00" r="8.4" fill="#0000ff"/>
<circle cx="1337.70" cy="12.00" r="6.1" fill="none" stroke="#0000ff" stroke-width="4.5"/><circle cx="1376.00" cy="72.90" r="6.1" fill="none" stroke="#0000ff" stroke-width="4.5"/><circle cx="1349.20" cy="147.60" r="6.1" fill="none" stroke="#0000ff" stroke-width="4.5"/><circle cx="1354.90" cy="221.10" r="6.1" fill="none" stroke="#0000ff" stroke-width="4.5"/><circle cx="1331.80" cy="232.50" r="6.1" fill="none" stroke="#0000ff" stroke-width="4.5"/><circle cx="1376.90" cy="251.50" r="6.1" fill="none" stroke="#0000ff" stroke-width="4.5"/><circle cx="1428.40" cy="252.50" r="6.1" fill="none" stroke="#0000ff" stroke-width="4.5"/><circle cx="1297.00" cy="277.70" r="6.1" fill="none" stroke="#0000ff" stroke-width="4.5"/><circle cx="1414.50" cy="281.40" r="6.1" fill="none" stroke="#0000ff" stroke-width="4.5"/><circle cx="1346.10" cy="295.90" r="6.1" fill="none" stroke="#0000ff" stroke-width="4.5"/><circle cx="1297.60" cy="38.00" r="8.4" fill="#0000ff"/><circle cx="1348.70" cy="157.00" r="8.4" fill="#0000ff"/><circle cx="1311.30" cy="182.70" r="8.4" fill="#0000ff"/><circle cx="1342.50" cy="186.00" r="8.4" fill="#0000ff"/><circle cx="1364.10" cy="186.00" r="8.4" fill="#0000ff"/><circle cx="1368.20" cy="231.30" r="8.4" fill="#0000ff"/><circle cx="1358.30" cy="239.00" r="8.4" fill="#0000ff"/><circle cx="1496.90" cy="238.80" r="8.4" fill="#0000ff"/><circle cx="1354.30" cy="279.90" r="8.4" fill="#0000ff"/><circle cx="1290.30" cy="343.00" r="8.4" fill="#0000ff"/>
<circle cx="1312.20" cy="62.30" r="6.1" fill="none" stroke="#ff0000" stroke-width="4.5"/><circle cx="1287.00" cy="192.10" r="6.1" fill="none" stroke="#ff0000" stroke-width="4.5"/><circle cx="1353.10" cy="165.60" r="6.1" fill="none" stroke="#ff0000" stroke-width="4.5"/><circle cx="1439.40" cy="209.30" r="6.1" fill="none" stroke="#ff0000" stroke-width="4.5"/><circle cx="1480.20" cy="144.30" r="6.1" fill="none" stroke="#ff0000" stroke-width="4.5"/><circle cx="1504.70" cy="180.10" r="6.1" fill="none" stroke="#ff0000" stroke-width="4.5"/><circle cx="1563.30" cy="242.50" r="6.1" fill="none" stroke="#ff0000" stroke-width="4.5"/><circle cx="1482.00" cy="273.30" r="6.1" fill="none" stroke="#ff0000" stroke-width="4.5"/><circle cx="1384.70" cy="252.80" r="6.1" fill="none" stroke="#ff0000" stroke-width="4.5"/><circle cx="1438.30" cy="359.10" r="6.1" fill="none" stroke="#ff0000" stroke-width="4.5"/><circle cx="1402.10" cy="196.90" r="8.4" fill="#ff0000"/><circle cx="1474.40" cy="171.80" r="8.4" fill="#ff0000"/><circle cx="1553.10" cy="260.20" r="8.4" fill="#ff0000"/><circle cx="1539.20" cy="275.00" r="8.4" fill="#ff0000"/><circle cx="1627.00" cy="262.90" r="8.4" fill="#ff0000"/><circle cx="1636.60" cy="315.20" r="8.4" fill="#ff0000"/><circle cx="1723.40" cy="316.50" r="8.4" fill="#ff0000"/><circle cx="1383.30" cy="282.80" r="8.4" fill="#ff0000"/><circle cx="1485.80" cy="345.50" r="8.4" fill="#ff0000"/><circle cx="1337.20" cy="388.60" r="8.4" fill="#ff0000"/>
<g clip-path="url(#clipC)" fill="none" stroke="#000" stroke-linejoin="round"><polyline points="1268.70,141.37 1269.91,141.95 1271.12,142.52 1272.34,143.10 1273.55,143.68 1274.76,144.25 1275.98,144.83 1277.19,145.40 1278.40,145.97 1279.61,146.55 1280.83,147.12 1282.04,147.69 1283.25,148.26 1284.46,148.83 1285.67,149.40 1286.89,149.96 1288.10,150.53 1289.31,151.10 1290.53,151.66 1291.74,152.22 1292.95,152.79 1294.16,153.35 1295.38,153.91 1296.59,154.47 1297.80,155.03 1299.01,155.59 1300.23,156.14 1301.44,156.70 1302.65,157.25 1303.86,157.80 1305.08,158.36 1306.29,158.91 1307.50,159.46 1308.71,160.01 1309.92,160.55 1311.14,161.10 1312.35,161.64 1313.56,162.19 1314.78,162.73 1315.99,163.27 1317.20,163.81 1318.41,164.35 1319.62,164.88 1320.84,165.42 1322.05,165.95 1323.26,166.48 1324.48,167.02 1325.69,167.54 1326.90,168.07 1328.11,168.60 1329.33,169.12 1330.54,169.64 1331.75,170.17 1332.96,170.68 1334.17,171.20 1335.39,171.72 1336.60,172.23 1337.81,172.74 1339.03,173.25 1340.24,173.76 1341.45,174.27 1342.66,174.77 1343.88,175.27 1345.09,175.77 1346.30,176.27 1347.51,176.77 1348.73,177.26 1349.94,177.75 1351.15,178.24 1352.36,178.73 1353.58,179.22 1354.79,179.70 1356.00,180.18 1357.21,180.66 1358.42,181.13 1359.64,181.61 1360.85,182.08 1362.06,182.54 1363.28,183.01 1364.49,183.47 1365.70,183.93 1366.91,184.39 1368.12,184.85 1369.34,185.30 1370.55,185.75 1371.76,186.19 1372.98,186.64 1374.19,187.08 1375.40,187.52 1376.61,187.95 1377.83,188.38 1379.04,188.81 1380.25,189.24 1381.46,189.66 1382.67,190.08 1383.89,190.49 1385.10,190.91 1386.31,191.32 1387.53,191.72 1388.74,192.13 1389.95,192.53 1391.16,192.92 1392.38,193.32 1393.59,193.71 1394.80,194.09 1396.01,194.48 1397.23,194.86 1398.44,195.23 1399.65,195.61 1400.86,195.97 1402.08,196.34 1403.29,196.70 1404.50,197.06 1405.71,197.42 1406.93,197.77 1408.14,198.11 1409.35,198.46 1410.56,198.80 1411.78,199.14 1412.99,199.47 1414.20,199.80 1415.41,200.13 1416.62,200.45 1417.84,200.77 1419.05,201.08 1420.26,201.39 1421.48,201.70 1422.69,202.01 1423.90,202.31 1425.11,202.61 1426.33,202.90 1427.54,203.19 1428.75,203.48 1429.96,203.76 1431.18,204.04 1432.39,204.32 1433.60,204.59 1434.81,204.86 1436.03,205.13 1437.24,205.39 1438.45,205.65 1439.66,205.90 1440.88,206.16 1442.09,206.41 1443.30,206.65 1444.51,206.90 1445.73,207.14 1446.94,207.37 1448.15,207.61 1449.36,207.84 1450.58,208.07 1451.79,208.29 1453.00,208.51 1454.21,208.73 1455.42,208.95 1456.64,209.16 1457.85,209.37 1459.06,209.58 1460.28,209.78 1461.49,209.98 1462.70,210.18 1463.91,210.38 1465.12,210.57 1466.34,210.76 1467.55,210.95 1468.76,211.14 1469.98,211.32 1471.19,211.50 1472.40,211.68 1473.61,211.86 1474.83,212.03 1476.04,212.20 1477.25,212.37 1478.46,212.54 1479.68,212.71 1480.89,212.87 1482.10,213.03 1483.31,213.19 1484.53,213.35 1485.74,213.50 1486.95,213.65 1488.16,213.81 1489.38,213.95 1490.59,214.10 1491.80,214.25 1493.01,214.39 1494.23,214.53 1495.44,214.67 1496.65,214.81 1497.86,214.95 1499.08,215.08 1500.29,215.21 1501.50,215.35 1502.71,215.48 1503.93,215.60 1505.14,215.73 1506.35,215.86 1507.56,215.98 1508.78,216.10 1509.99,216.22 1511.20,216.34 1512.41,216.46 1513.62,216.58 1514.84,216.69 1516.05,216.81 1517.26,216.92 1518.48,217.03 1519.69,217.14 1520.90,217.25 1522.11,217.36 1523.33,217.47 1524.54,217.57 1525.75,217.68 1526.96,217.78 1528.18,217.88 1529.39,217.98 1530.60,218.08 1531.81,218.18 1533.03,218.28 1534.24,218.38 1535.45,218.47 1536.66,218.57 1537.88,218.66 1539.09,218.76 1540.30,218.85 1541.51,218.94 1542.73,219.03 1543.94,219.12 1545.15,219.21 1546.36,219.30 1547.58,219.38 1548.79,219.47 1550.00,219.55 1551.21,219.64 1552.43,219.72 1553.64,219.81 1554.85,219.89 1556.06,219.97 1557.28,220.05 1558.49,220.13 1559.70,220.21 1560.91,220.29 1562.12,220.37 1563.34,220.45 1564.55,220.52 1565.76,220.60 1566.97,220.67 1568.19,220.75 1569.40,220.82 1570.61,220.90 1571.83,220.97 1573.04,221.04 1574.25,221.12 1575.46,221.19 1576.68,221.26 1577.89,221.33 1579.10,221.40 1580.31,221.47 1581.53,221.54 1582.74,221.60 1583.95,221.67 1585.16,221.74 1586.38,221.81 1587.59,221.87 1588.80,221.94 1590.01,222.00 1591.23,222.07 1592.44,222.13 1593.65,222.20 1594.86,222.26 1596.08,222.32 1597.29,222.39 1598.50,222.45 1599.71,222.51 1600.93,222.57 1602.14,222.63 1603.35,222.69 1604.56,222.75 1605.78,222.81 1606.99,222.87 1608.20,222.93 1609.41,222.99 1610.62,223.05 1611.84,223.11 1613.05,223.16 1614.26,223.22 1615.48,223.28 1616.69,223.33 1617.90,223.39 1619.11,223.45 1620.33,223.50 1621.54,223.56 1622.75,223.61 1623.96,223.67 1625.18,223.72 1626.39,223.78 1627.60,223.83 1628.81,223.88 1630.03,223.94 1631.24,223.99 1632.45,224.04 1633.66,224.09 1634.88,224.15 1636.09,224.20 1637.30,224.25 1638.51,224.30 1639.73,224.35 1640.94,224.40 1642.15,224.45 1643.36,224.50 1644.58,224.55 1645.79,224.60 1647.00,224.65 1648.21,224.70 1649.43,224.75 1650.64,224.80 1651.85,224.85 1653.06,224.90 1654.28,224.94 1655.49,224.99 1656.70,225.04 1657.91,225.09 1659.12,225.14 1660.34,225.18 1661.55,225.23 1662.76,225.28 1663.98,225.32 1665.19,225.37 1666.40,225.41 1667.61,225.46 1668.83,225.51 1670.04,225.55 1671.25,225.60 1672.46,225.64 1673.67,225.69 1674.89,225.73 1676.10,225.78 1677.31,225.82 1678.53,225.87 1679.74,225.91 1680.95,225.95 1682.16,226.00 1683.38,226.04 1684.59,226.08 1685.80,226.13 1687.01,226.17 1688.22,226.21 1689.44,226.26 1690.65,226.30 1691.86,226.34 1693.08,226.38 1694.29,226.43 1695.50,226.47 1696.71,226.51 1697.93,226.55 1699.14,226.59 1700.35,226.63 1701.56,226.68 1702.78,226.72 1703.99,226.76 1705.20,226.80 1706.41,226.84 1707.62,226.88 1708.84,226.92 1710.05,226.96 1711.26,227.00 1712.48,227.04 1713.69,227.08 1714.90,227.12 1716.11,227.16 1717.33,227.20 1718.54,227.24 1719.75,227.28 1720.96,227.32 1722.17,227.36 1723.39,227.40 1724.60,227.44 1725.81,227.48 1727.03,227.51 1728.24,227.55 1729.45,227.59 1730.66,227.63 1731.88,227.67 1733.09,227.71 1734.30,227.74 1735.51,227.78 1736.73,227.82 1737.94,227.86 1739.15,227.90 1740.36,227.93 1741.58,227.97 1742.79,228.01 1744.00,228.05 1745.21,228.08 1746.43,228.12 1747.64,228.16 1748.85,228.19 1750.06,228.23 1751.28,228.27 1752.49,228.30 1753.70,228.34" stroke-width="2.6"/><polyline points="1268.70,231.02 1269.91,231.10 1271.12,231.18 1272.34,231.27 1273.55,231.35 1274.76,231.43 1275.98,231.51 1277.19,231.60 1278.40,231.68 1279.61,231.77 1280.83,231.86 1282.04,231.94 1283.25,232.03 1284.46,232.12 1285.67,232.21 1286.89,232.30 1288.10,232.40 1289.31,232.49 1290.53,232.58 1291.74,232.68 1292.95,232.77 1294.16,232.87 1295.38,232.97 1296.59,233.07 1297.80,233.17 1299.01,233.27 1300.23,233.37 1301.44,233.47 1302.65,233.58 1303.86,233.68 1305.08,233.79 1306.29,233.90 1307.50,234.00 1308.71,234.11 1309.92,234.23 1311.14,234.34 1312.35,234.45 1313.56,234.57 1314.78,234.68 1315.99,234.80 1317.20,234.92 1318.41,235.04 1319.62,235.16 1320.84,235.29 1322.05,235.41 1323.26,235.54 1324.48,235.66 1325.69,235.79 1326.90,235.92 1328.11,236.06 1329.33,236.19 1330.54,236.33 1331.75,236.46 1332.96,236.60 1334.17,236.74 1335.39,236.89 1336.60,237.03 1337.81,237.18 1339.03,237.33 1340.24,237.48 1341.45,237.63 1342.66,237.78 1343.88,237.94 1345.09,238.10 1346.30,238.26 1347.51,238.42 1348.73,238.59 1349.94,238.75 1351.15,238.92 1352.36,239.09 1353.58,239.27 1354.79,239.44 1356.00,239.62 1357.21,239.80 1358.42,239.98 1359.64,240.17 1360.85,240.36 1362.06,240.55 1363.28,240.74 1364.49,240.94 1365.70,241.13 1366.91,241.33 1368.12,241.54 1369.34,241.74 1370.55,241.95 1371.76,242.17 1372.98,242.38 1374.19,242.60 1375.40,242.82 1376.61,243.04 1377.83,243.27 1379.04,243.50 1380.25,243.73 1381.46,243.97 1382.67,244.21 1383.89,244.45 1385.10,244.69 1386.31,244.94 1387.53,245.20 1388.74,245.45 1389.95,245.71 1391.16,245.97 1392.38,246.24 1393.59,246.50 1394.80,246.78 1396.01,247.05 1397.23,247.33 1398.44,247.61 1399.65,247.90 1400.86,248.19 1402.08,248.48 1403.29,248.78 1404.50,249.08 1405.71,249.38 1406.93,249.69 1408.14,250.00 1409.35,250.31 1410.56,250.63 1411.78,250.95 1412.99,251.28 1414.20,251.61 1415.41,251.94 1416.62,252.27 1417.84,252.61 1419.05,252.96 1420.26,253.30 1421.48,253.65 1422.69,254.01 1423.90,254.36 1425.11,254.72 1426.33,255.09 1427.54,255.46 1428.75,255.83 1429.96,256.20 1431.18,256.58 1432.39,256.96 1433.60,257.35 1434.81,257.74 1436.03,258.13 1437.24,258.53 1438.45,258.93 1439.66,259.33 1440.88,259.73 1442.09,260.14 1443.30,260.55 1444.51,260.97 1445.73,261.39 1446.94,261.81 1448.15,262.23 1449.36,262.66 1450.58,263.09 1451.79,263.53 1453.00,263.96 1454.21,264.40 1455.42,264.85 1456.64,265.29 1457.85,265.74 1459.06,266.19 1460.28,266.64 1461.49,267.10 1462.70,267.56 1463.91,268.02 1465.12,268.49 1466.34,268.95 1467.55,269.42 1468.76,269.90 1469.98,270.37 1471.19,270.85 1472.40,271.33 1473.61,271.81 1474.83,272.29 1476.04,272.78 1477.25,273.27 1478.46,273.76 1479.68,274.25 1480.89,274.75 1482.10,275.25 1483.31,275.75 1484.53,276.25 1485.74,276.75 1486.95,277.26 1488.16,277.77 1489.38,278.27 1490.59,278.79 1491.80,279.30 1493.01,279.81 1494.23,280.33 1495.44,280.85 1496.65,281.37 1497.86,281.89 1499.08,282.42 1500.29,282.94 1501.50,283.47 1502.71,284.00 1503.93,284.53 1505.14,285.06 1506.35,285.59 1507.56,286.13 1508.78,286.66 1509.99,287.20 1511.20,287.74 1512.41,288.28 1513.62,288.82 1514.84,289.36 1516.05,289.91 1517.26,290.45 1518.48,291.00 1519.69,291.55 1520.90,292.10 1522.11,292.65 1523.33,293.20 1524.54,293.75 1525.75,294.31 1526.96,294.86 1528.18,295.42 1529.39,295.98 1530.60,296.53 1531.81,297.09 1533.03,297.65 1534.24,298.22 1535.45,298.78 1536.66,299.34 1537.88,299.90 1539.09,300.47 1540.30,301.04 1541.51,301.60 1542.73,302.17 1543.94,302.74 1545.15,303.31 1546.36,303.88 1547.58,304.45 1548.79,305.02 1550.00,305.60 1551.21,306.17 1552.43,306.75 1553.64,307.32 1554.85,307.90 1556.06,308.47 1557.28,309.05 1558.49,309.63 1559.70,310.21 1560.91,310.79 1562.12,311.37 1563.34,311.95 1564.55,312.53 1565.76,313.11 1566.97,313.70 1568.19,314.28 1569.40,314.86 1570.61,315.45 1571.83,316.03 1573.04,316.62 1574.25,317.21 1575.46,317.79 1576.68,318.38 1577.89,318.97 1579.10,319.56 1580.31,320.15 1581.53,320.74 1582.74,321.33 1583.95,321.92 1585.16,322.51 1586.38,323.10 1587.59,323.69 1588.80,324.28 1590.01,324.88 1591.23,325.47 1592.44,326.07 1593.65,326.66 1594.86,327.25 1596.08,327.85 1597.29,328.45 1598.50,329.04 1599.71,329.64 1600.93,330.24 1602.14,330.83 1603.35,331.43 1604.56,332.03 1605.78,332.63 1606.99,333.23 1608.20,333.83 1609.41,334.43 1610.62,335.03 1611.84,335.63 1613.05,336.23 1614.26,336.83 1615.48,337.43 1616.69,338.03 1617.90,338.63 1619.11,339.24 1620.33,339.84 1621.54,340.44 1622.75,341.05 1623.96,341.65 1625.18,342.25 1626.39,342.86 1627.60,343.46 1628.81,344.07 1630.03,344.67 1631.24,345.28 1632.45,345.88 1633.66,346.49 1634.88,347.10 1636.09,347.70 1637.30,348.31 1638.51,348.92 1639.73,349.53 1640.94,350.13 1642.15,350.74 1643.36,351.35 1644.58,351.96 1645.79,352.57 1647.00,353.18 1648.21,353.78 1649.43,354.39 1650.64,355.00 1651.85,355.61 1653.06,356.22 1654.28,356.83 1655.49,357.44 1656.70,358.05 1657.91,358.67 1659.12,359.28 1660.34,359.89 1661.55,360.50 1662.76,361.11 1663.98,361.72 1665.19,362.34 1666.40,362.95 1667.61,363.56 1668.83,364.17 1670.04,364.79 1671.25,365.40 1672.46,366.01 1673.67,366.63 1674.89,367.24 1676.10,367.85 1677.31,368.47 1678.53,369.08 1679.74,369.70 1680.95,370.31 1682.16,370.93 1683.38,371.54 1684.59,372.16 1685.80,372.77 1687.01,373.39 1688.22,374.00 1689.44,374.62 1690.65,375.23 1691.86,375.85 1693.08,376.47 1694.29,377.08 1695.50,377.70 1696.71,378.31 1697.93,378.93 1699.14,379.55 1700.35,380.16 1701.56,380.78 1702.78,381.40 1703.99,382.02 1705.20,382.63 1706.41,383.25 1707.62,383.87 1708.84,384.49 1710.05,385.11 1711.26,385.72 1712.48,386.34 1713.69,386.96 1714.90,387.58 1716.11,388.20 1717.33,388.82 1718.54,389.44 1719.75,390.05 1720.96,390.67 1722.17,391.29 1723.39,391.91 1724.60,392.53 1725.81,393.15 1727.03,393.77 1728.24,394.39 1729.45,395.01 1730.66,395.63 1731.88,396.25 1733.09,396.87 1734.30,397.49 1735.51,398.11 1736.73,398.73 1737.94,399.35 1739.15,399.97 1740.36,400.59 1741.58,401.22 1742.79,401.84 1744.00,402.46 1745.21,403.08 1746.43,403.70 1747.64,404.32 1748.85,404.94 1750.06,405.57 1751.28,406.19 1752.49,406.81 1753.70,407.43" stroke-width="2.6"/><line x1="1268.70" y1="186.20" x2="1753.70" y2="317.89" stroke-width="4.0"/></g>
<text x="330.24" y="105.05" font-size="41.71" stroke="#fff" stroke-width="0.7" textLength="161.28" lengthAdjust="spacingAndGlyphs" fill="#000">r= -0.339</text>
<text x="923.51" y="104.50" font-size="41.90" stroke="#fff" stroke-width="0.7" textLength="162.74" lengthAdjust="spacingAndGlyphs" fill="#000">r= -0.143</text>
<text x="1560.70" y="104.50" font-size="41.90" stroke="#fff" stroke-width="0.7" textLength="151.31" lengthAdjust="spacingAndGlyphs" fill="#000">r=-0.333</text>
<text x="159.87" y="456.80" font-size="36.40" textLength="132.75" lengthAdjust="spacingAndGlyphs" fill="#000">p=0.143</text>
<text x="737.17" y="456.81" font-size="36.40" textLength="132.86" lengthAdjust="spacingAndGlyphs" fill="#000">p=0.547</text>
<text x="1317.32" y="456.81" font-size="36.40" textLength="133.16" lengthAdjust="spacingAndGlyphs" fill="#000">p=0.036</text>
<text x="639.12" y="670.46" font-size="31.81" stroke="#fff" stroke-width="1.0" textLength="93.44" lengthAdjust="spacingAndGlyphs" fill="#000">female</text>
<text x="735.50" y="670.61" font-size="34.93" stroke="#fff" stroke-width="1.0" textLength="45.42" lengthAdjust="spacingAndGlyphs" fill="#000">HS</text>
<text x="639.13" y="713.90" font-size="31.66" stroke="#fff" stroke-width="1.0" textLength="93.43" lengthAdjust="spacingAndGlyphs" fill="#000">female</text>
<text x="736.53" y="713.16" font-size="34.00" stroke="#fff" stroke-width="1.0" textLength="61.48" lengthAdjust="spacingAndGlyphs" fill="#000">TSD</text>
<text x="921.18" y="674.44" font-size="32.39" stroke="#fff" stroke-width="1.0" textLength="67.09" lengthAdjust="spacingAndGlyphs" fill="#000">male</text>
<text x="991.33" y="674.31" font-size="34.93" stroke="#fff" stroke-width="1.0" textLength="46.06" lengthAdjust="spacingAndGlyphs" fill="#000">HS</text>
<text x="921.18" y="717.42" font-size="31.82" stroke="#fff" stroke-width="1.0" textLength="67.10" lengthAdjust="spacingAndGlyphs" fill="#000">male</text>
<text x="992.09" y="717.31" font-size="34.93" stroke="#fff" stroke-width="1.0" textLength="61.36" lengthAdjust="spacingAndGlyphs" fill="#000">TSD</text>
<text x="1.19" y="23.20" font-size="31.80" font-weight="bold" textLength="22.76" lengthAdjust="spacingAndGlyphs" fill="#000">A</text>
<text x="590.14" y="23.20" font-size="31.80" font-weight="bold" textLength="21.95" lengthAdjust="spacingAndGlyphs" fill="#000">B</text>
<text x="1181.10" y="23.10" font-size="31.80" font-weight="bold" textLength="22.40" lengthAdjust="spacingAndGlyphs" fill="#000">C</text>
<circle cx="580.7" cy="662.7" r="13.9" fill="none" stroke="#ff0000" stroke-width="5.5"/>
<circle cx="580.7" cy="701.8" r="16.7" fill="#ff0000"/>
<circle cx="862.9" cy="666.3" r="14.1" fill="none" stroke="#0000ff" stroke-width="5.5"/>
<circle cx="862.9" cy="705.5" r="16.7" fill="#0000ff"/>
</svg>
</body></html>
